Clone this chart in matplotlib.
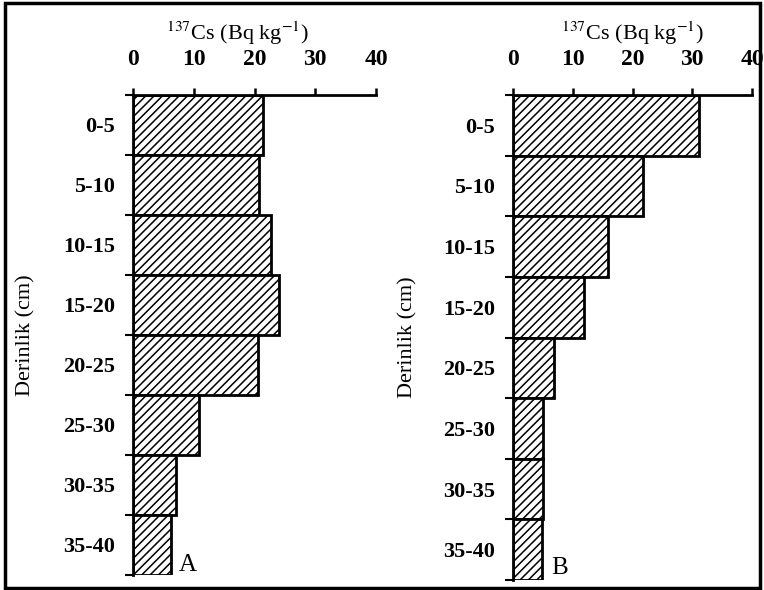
import matplotlib
matplotlib.use("Agg")
import matplotlib.pyplot as plt
from matplotlib.patches import Rectangle
import numpy as np

depths = ["0-5", "5-10", "10-15", "15-20", "20-25", "25-30", "30-35", "35-40"]
cs_A = [21.4, 20.7, 22.7, 24.0, 20.5, 10.9, 7.1, 6.2]
cs_B = [31.2, 21.8, 15.9, 11.8, 6.8, 5.1, 5.0, 4.9]
xticks = [0, 10, 20, 30, 40]
panel_letters = ["A", "B"]

plt.rcParams['font.family'] = ['Liberation Serif', 'DejaVu Serif']
plt.rcParams['mathtext.fontset'] = 'stix'
plt.rcParams['hatch.linewidth'] = 1.1

fig = plt.figure(figsize=(7.64, 5.90), dpi=100)
W, H = 764.0, 590.0

def make_panel(left_px, width_px, bottom_px, top_px, values, title_x):
    ax = fig.add_axes([left_px / W, 1 - bottom_px / H, width_px / W, (bottom_px - top_px) / H])
    pos = np.arange(len(depths))
    ax.barh(pos, values, height=1.0, color='white', edgecolor='black',
            linewidth=2.0, hatch='////')
    ax.set_xlim(0, 40)
    ax.set_ylim(len(depths) - 0.5, -0.5)
    ax.xaxis.tick_top()
    ax.set_xticks(xticks)
    ax.set_xticklabels([str(v) for v in xticks], fontsize=17, fontweight='bold')
    ax.tick_params(axis='x', direction='out', length=5, width=1.8, pad=13)
    ax.set_yticks(pos)
    ax.set_yticklabels(depths, fontsize=16, fontweight='bold')
    ax.set_yticks(np.arange(len(depths) + 1) - 0.5, minor=True)
    ax.tick_params(axis='y', which='major', length=0, pad=13)
    ax.tick_params(axis='y', which='minor', direction='out', length=6, width=1.5)
    for s in ['right', 'bottom']:
        ax.spines[s].set_visible(False)
    ax.spines['top'].set_linewidth(2.0)
    ax.spines['left'].set_linewidth(2.0)
    ax.set_ylabel("Derinlik (cm)", fontsize=16)
    ax.yaxis.set_label_coords(-0.40, 0.5)
    ax.text(title_x, 1.0 + 62 / (bottom_px - top_px), r"$^{137}$Cs (Bq kg$^{-1}$)",
            transform=ax.transAxes, ha='center', va='center', fontsize=16)
    return ax

axA = make_panel(133, 243, 575, 95, cs_A, 0.43)
axB = make_panel(513, 239, 580, 95, cs_B, 0.50)
axA.text(0.19, 0.02, panel_letters[0], transform=axA.transAxes, ha='left', va='center', fontsize=18)
axB.text(0.16, 0.025, panel_letters[1], transform=axB.transAxes, ha='left', va='center', fontsize=18)

fig.patches.append(Rectangle((5 / W, 2 / H), 755 / W, 585 / H, transform=fig.transFigure,
                             fill=False, edgecolor='black', linewidth=2.5))

fig.savefig("out.png", dpi=100)
